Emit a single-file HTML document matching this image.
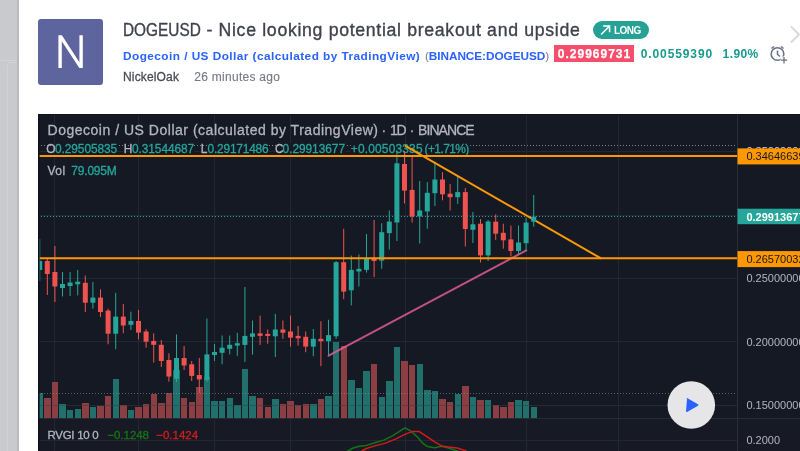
<!DOCTYPE html>
<html><head><meta charset="utf-8">
<style>
html,body{margin:0;padding:0;}
body{will-change:transform;width:800px;height:451px;overflow:hidden;background:#fff;position:relative;font-family:"Liberation Sans",sans-serif;}
.abs{position:absolute;white-space:nowrap;}
#strip{left:0;top:0;width:19px;height:451px;background:#c9cace;overflow:hidden;}
#strip:after{content:"";position:absolute;right:0;top:0;width:2px;height:451px;background:#b9bbc0;}
#strip .inner{position:absolute;left:7px;top:62px;width:14px;height:400px;border-left:1px solid #d1d2d6;border-top:1px solid #d1d2d6;border-top-left-radius:5px;}
#strip .hl{position:absolute;left:0;top:60px;width:19px;height:1px;background:#d1d2d6;}
#avatar{left:37.5px;top:18.5px;width:65px;height:66px;background:#5d649e;border-radius:3px;}
#title{left:123px;top:16.8px;font-size:17.7px;color:#3f424c;-webkit-text-stroke:0.35px #3f424c;line-height:26px;letter-spacing:0.37px;}
#sub{left:123px;top:47.5px;font-size:11.8px;font-weight:bold;color:#2962ff;line-height:16px;letter-spacing:0.34px;}
#sub .g{color:#787b86;font-weight:normal;}
#meta{left:123px;top:69.2px;font-size:12px;line-height:16px;color:#4a4d57;-webkit-text-stroke:0.3px #4a4d57;letter-spacing:0.15px;}
#meta .t{color:#787b86;-webkit-text-stroke:0.15px #787b86;position:absolute;left:71.3px;letter-spacing:0.27px;}
#long{left:593.3px;top:20.8px;width:55.7px;height:18.3px;border-radius:9.2px;background:#26a195;color:#fff;font-size:10px;font-weight:bold;}
#price{left:554px;top:45px;width:80px;height:16.7px;background:#f64f6b;color:#fff;font-size:12px;font-weight:bold;line-height:18.6px;-webkit-text-stroke:0.25px #fff;text-align:center;letter-spacing:1px;text-indent:1px;}
#chg{left:640.7px;top:46px;font-size:12px;font-weight:bold;color:#169a8c;line-height:17px;letter-spacing:0.9px;}
#pct{left:722.6px;top:46px;font-size:12px;font-weight:bold;color:#169a8c;line-height:17px;letter-spacing:0.4px;}
svg text{font-family:"Liberation Sans",sans-serif;}
</style></head><body>
<div id="strip" class="abs"><div class="hl"></div><div class="inner"></div></div>
<div id="avatar" class="abs">
<svg width="65" height="66" viewBox="0 0 65 66" style="position:absolute;left:0;top:0"><path d="M20.4 16.3 H23.9 L41.4 43.2 V16.3 H44.8 V49.1 H41.3 L23.8 22.2 V49.1 H20.4 Z" fill="#fff"/></svg>
</div>
<div id="title" class="abs"><span id="t1" style="letter-spacing:0;display:inline-block;transform:scaleX(0.87);transform-origin:0 0;margin-right:-11.65px">DOGEUSD</span><span id="t2" style="letter-spacing:0.68px"> - Nice looking potential breakout and upside</span></div>
<div id="long" class="abs"><svg width="56" height="19" style="position:absolute;left:0;top:0"><path d="M8.1 13.5 L16.4 5.2 M10.1 5 H16.6 V11.2" stroke="#fff" stroke-width="1.5" fill="none"/><text x="21.1" y="12.6" font-size="10" font-weight="bold" letter-spacing="-0.6" fill="#fff">LONG</text></svg></div>
<div id="sub" class="abs"><span id="s1" style="letter-spacing:0.46px">Dogecoin / US Dollar (calculated by TradingView)</span><span id="s2" style="position:absolute;left:302px;letter-spacing:-0.07px"><span class="g">(</span>BINANCE:DOGEUSD<span class="g">)</span></span></div>
<div id="meta" class="abs">NickelOak<span class="t">26 minutes ago</span></div>
<div id="price" class="abs">0.29969731</div>
<div id="chg" class="abs">0.00559390</div>
<div id="pct" class="abs">1.90%</div>
<svg class="abs" style="left:768px;top:44px" width="22" height="20" viewBox="0 0 22 20">
<circle cx="9.5" cy="10" r="6.3" stroke="#687184" stroke-width="1.6" fill="none"/>
<path d="M9.5 6.5 V10.5 L12 12.5" stroke="#687184" stroke-width="1.5" fill="none"/>
<path d="M3.5 4.5 L6 2.5 M15.5 4.5 L13 2.5" stroke="#687184" stroke-width="1.5" fill="none"/>
<rect x="12.5" y="12.5" width="7" height="7" fill="#fff"/>
<path d="M16 13 V19.5 M12.8 16.2 H19.2" stroke="#687184" stroke-width="1.3"/>
</svg>
<svg class="abs" style="left:788px;top:24px" width="12" height="24"><path d="M3 2.5 L11 10.5 L3 18.5" stroke="#d3d9e1" stroke-width="1.9" fill="none"/></svg>

<svg class="abs" style="left:38px;top:114px" width="762" height="337" viewBox="38 114 762 337">
<defs>
<clipPath id="main"><rect x="38" y="114" width="699" height="304"/></clipPath>
<clipPath id="low"><rect x="38" y="419" width="699" height="32"/></clipPath>
</defs>
<rect x="38" y="114" width="762" height="337" fill="#151924"/>
<rect x="38" y="114" width="762" height="1" fill="#10131b"/>
<g stroke="#232733" stroke-width="1" shape-rendering="crispEdges">
<path d="M54.5 115V451 M138.5 115V451 M214.5 115V451 M290.5 115V451 M405.5 115V451 M526.5 115V451 M618.5 115V451"/>
<path d="M38 151.5H737 M38 215.5H737 M38 278.5H737 M38 341.5H737 M38 405.5H737"/>
</g>
<g clip-path="url(#main)">
<path d="M38 145.5H737" stroke="#7e818b" stroke-width="1" stroke-dasharray="1 2" shape-rendering="crispEdges"/>
</g>
<!-- legend -->
<g fill="#151924"><rect x="55" y="143" width="62" height="11"/><rect x="132" y="143" width="62" height="11"/><rect x="207.6" y="143" width="61" height="11"/><rect x="282.6" y="143" width="62.4" height="11"/><rect x="350.75" y="143" width="71.8" height="11"/><rect x="424.5" y="143" width="44.8" height="11"/></g>
<text x="47.5" y="135.3" font-size="14" fill="#b2b5be" stroke="#b2b5be" stroke-width="0.3" textLength="330.5" lengthAdjust="spacing">Dogecoin / US Dollar (calculated by TradingView)</text>
<text x="383.75" y="135.3" font-size="14" fill="#b2b5be" stroke="#b2b5be" stroke-width="0.3" text-anchor="middle">·</text>
<text x="389.9" y="135.3" font-size="14" fill="#b2b5be" stroke="#b2b5be" stroke-width="0.3" textLength="16.8" lengthAdjust="spacing">1D</text>
<text x="412" y="135.3" font-size="14" fill="#b2b5be" stroke="#b2b5be" stroke-width="0.3" text-anchor="middle">·</text>
<text x="418.1" y="135.3" font-size="14" fill="#b2b5be" stroke="#b2b5be" stroke-width="0.3" textLength="56.6" lengthAdjust="spacing">BINANCE</text>
<text x="46.2" y="152.8" font-size="11.9" fill="#b2b5be" stroke="#b2b5be" stroke-width="0.3" textLength="7.6" lengthAdjust="spacing">O</text>
<text x="55" y="152.8" font-size="11.9" fill="#26a69a" stroke="#26a69a" stroke-width="0.3" textLength="62.2" lengthAdjust="spacing">0.29505835</text>
<text x="123.8" y="152.8" font-size="11.9" fill="#b2b5be" stroke="#b2b5be" stroke-width="0.3" textLength="7.2" lengthAdjust="spacing">H</text>
<text x="132" y="152.8" font-size="11.9" fill="#26a69a" stroke="#26a69a" stroke-width="0.3" textLength="62.2" lengthAdjust="spacing">0.31544687</text>
<text x="200.8" y="152.8" font-size="11.9" fill="#b2b5be" stroke="#b2b5be" stroke-width="0.3" textLength="6" lengthAdjust="spacing">L</text>
<text x="207.6" y="152.8" font-size="11.9" fill="#26a69a" stroke="#26a69a" stroke-width="0.3" textLength="61" lengthAdjust="spacing">0.29171486</text>
<text x="275.1" y="152.8" font-size="11.9" fill="#b2b5be" stroke="#b2b5be" stroke-width="0.3" textLength="6.8" lengthAdjust="spacing">C</text>
<text x="282.6" y="152.8" font-size="11.9" fill="#26a69a" stroke="#26a69a" stroke-width="0.3" textLength="62.4" lengthAdjust="spacing">0.29913677</text>
<text x="350.75" y="152.8" font-size="11.9" fill="#26a69a" stroke="#26a69a" stroke-width="0.3" textLength="71.8" lengthAdjust="spacing">+0.00503335</text>
<text x="424.5" y="152.8" font-size="11.9" fill="#26a69a" stroke="#26a69a" stroke-width="0.3" textLength="44.8" lengthAdjust="spacing">(+1.71%)</text>
<text x="47.6" y="174.8" font-size="12" fill="#b2b5be" stroke="#b2b5be" stroke-width="0.3" textLength="17.5" lengthAdjust="spacing">Vol</text>
<text x="71.3" y="174.8" font-size="12" fill="#26a69a" stroke="#26a69a" stroke-width="0.3" textLength="45.5" lengthAdjust="spacing">79.095M</text>
<g clip-path="url(#main)">
<g shape-rendering="crispEdges">
<rect x="36.5" y="393.2" width="6.4" height="24.8" fill="#22706b"/>
<rect x="44.1" y="398.0" width="6.4" height="20.0" fill="#8b3f43"/>
<rect x="51.7" y="382.2" width="6.4" height="35.8" fill="#8b3f43"/>
<rect x="59.3" y="403.9" width="6.4" height="14.1" fill="#22706b"/>
<rect x="66.9" y="409.6" width="6.4" height="8.4" fill="#22706b"/>
<rect x="74.5" y="408.7" width="6.4" height="9.3" fill="#22706b"/>
<rect x="82.1" y="403.0" width="6.4" height="15.0" fill="#8b3f43"/>
<rect x="89.7" y="406.7" width="6.4" height="11.3" fill="#22706b"/>
<rect x="97.3" y="405.6" width="6.4" height="12.4" fill="#8b3f43"/>
<rect x="104.9" y="396.4" width="6.4" height="21.6" fill="#8b3f43"/>
<rect x="112.5" y="379.4" width="6.4" height="38.6" fill="#22706b"/>
<rect x="120.1" y="404.8" width="6.4" height="13.2" fill="#8b3f43"/>
<rect x="127.7" y="409.6" width="6.4" height="8.4" fill="#22706b"/>
<rect x="135.3" y="406.7" width="6.4" height="11.3" fill="#8b3f43"/>
<rect x="142.9" y="403.9" width="6.4" height="14.1" fill="#8b3f43"/>
<rect x="150.5" y="393.8" width="6.4" height="24.2" fill="#8b3f43"/>
<rect x="158.1" y="403.1" width="6.4" height="14.9" fill="#8b3f43"/>
<rect x="165.7" y="392.7" width="6.4" height="25.3" fill="#8b3f43"/>
<rect x="173.3" y="369.9" width="6.4" height="48.1" fill="#22706b"/>
<rect x="180.9" y="398.0" width="6.4" height="20.0" fill="#8b3f43"/>
<rect x="188.5" y="402.0" width="6.4" height="16.0" fill="#8b3f43"/>
<rect x="196.1" y="386.5" width="6.4" height="31.5" fill="#8b3f43"/>
<rect x="203.7" y="377.0" width="6.4" height="41.0" fill="#22706b"/>
<rect x="211.3" y="401.0" width="6.4" height="17.0" fill="#22706b"/>
<rect x="218.9" y="401.0" width="6.4" height="17.0" fill="#22706b"/>
<rect x="226.5" y="398.3" width="6.4" height="19.7" fill="#22706b"/>
<rect x="234.1" y="405.4" width="6.4" height="12.6" fill="#22706b"/>
<rect x="241.7" y="368.9" width="6.4" height="49.1" fill="#22706b"/>
<rect x="249.3" y="395.5" width="6.4" height="22.5" fill="#22706b"/>
<rect x="256.9" y="398.3" width="6.4" height="19.7" fill="#8b3f43"/>
<rect x="264.5" y="406.8" width="6.4" height="11.2" fill="#8b3f43"/>
<rect x="272.1" y="399.0" width="6.4" height="19.0" fill="#22706b"/>
<rect x="279.7" y="403.9" width="6.4" height="14.1" fill="#8b3f43"/>
<rect x="287.3" y="400.9" width="6.4" height="17.1" fill="#8b3f43"/>
<rect x="294.9" y="405.4" width="6.4" height="12.6" fill="#8b3f43"/>
<rect x="302.5" y="403.9" width="6.4" height="14.1" fill="#8b3f43"/>
<rect x="310.1" y="403.9" width="6.4" height="14.1" fill="#22706b"/>
<rect x="317.7" y="399.0" width="6.4" height="19.0" fill="#8b3f43"/>
<rect x="325.3" y="395.5" width="6.4" height="22.5" fill="#22706b"/>
<rect x="332.9" y="341.6" width="6.4" height="76.4" fill="#22706b"/>
<rect x="340.5" y="346.0" width="6.4" height="72.0" fill="#8b3f43"/>
<rect x="348.1" y="379.5" width="6.4" height="38.5" fill="#22706b"/>
<rect x="355.7" y="387.9" width="6.4" height="30.1" fill="#22706b"/>
<rect x="363.3" y="370.9" width="6.4" height="47.1" fill="#22706b"/>
<rect x="370.9" y="364.3" width="6.4" height="53.7" fill="#8b3f43"/>
<rect x="378.5" y="397.0" width="6.4" height="21.0" fill="#22706b"/>
<rect x="386.1" y="381.1" width="6.4" height="36.9" fill="#22706b"/>
<rect x="393.7" y="346.6" width="6.4" height="71.4" fill="#22706b"/>
<rect x="401.3" y="360.9" width="6.4" height="57.1" fill="#8b3f43"/>
<rect x="408.9" y="365.3" width="6.4" height="52.7" fill="#8b3f43"/>
<rect x="416.5" y="364.3" width="6.4" height="53.7" fill="#22706b"/>
<rect x="424.1" y="389.9" width="6.4" height="28.1" fill="#22706b"/>
<rect x="431.7" y="390.9" width="6.4" height="27.1" fill="#22706b"/>
<rect x="439.3" y="398.9" width="6.4" height="19.1" fill="#8b3f43"/>
<rect x="446.9" y="401.9" width="6.4" height="16.1" fill="#8b3f43"/>
<rect x="454.5" y="393.5" width="6.4" height="24.5" fill="#22706b"/>
<rect x="462.1" y="385.9" width="6.4" height="32.1" fill="#8b3f43"/>
<rect x="469.7" y="397.0" width="6.4" height="21.0" fill="#22706b"/>
<rect x="477.3" y="399.9" width="6.4" height="18.1" fill="#8b3f43"/>
<rect x="484.9" y="399.9" width="6.4" height="18.1" fill="#22706b"/>
<rect x="492.5" y="405.4" width="6.4" height="12.6" fill="#8b3f43"/>
<rect x="500.1" y="406.8" width="6.4" height="11.2" fill="#8b3f43"/>
<rect x="507.7" y="401.9" width="6.4" height="16.1" fill="#8b3f43"/>
<rect x="515.3" y="399.9" width="6.4" height="18.1" fill="#22706b"/>
<rect x="522.9" y="400.9" width="6.4" height="17.1" fill="#22706b"/>
<rect x="530.5" y="406.8" width="6.4" height="11.2" fill="#22706b"/>
</g>
<line x1="328.6" y1="355.7" x2="526.3" y2="250.4" stroke="#ee5f9b" stroke-width="2" stroke-linecap="round" stroke-opacity="0.8"/>
<path d="M38 405.5H737" stroke="#2a2e39" stroke-opacity="0.35" stroke-width="1" shape-rendering="crispEdges"/>
<path d="M38 393.5H737" stroke="#8a8d96" stroke-opacity="0.6" stroke-width="1" stroke-dasharray="1 2" shape-rendering="crispEdges"/>
<g>
<rect x="39.2" y="239.0" width="1" height="42.0" fill="#26a69a"/>
<rect x="37.2" y="261.0" width="5" height="9.0" fill="#26a69a"/>
<rect x="46.8" y="259.0" width="1" height="36.0" fill="#ef5350"/>
<rect x="44.8" y="261.0" width="5" height="13.0" fill="#ef5350"/>
<rect x="54.4" y="246.0" width="1" height="56.0" fill="#ef5350"/>
<rect x="52.4" y="272.0" width="5" height="14.5" fill="#ef5350"/>
<rect x="62.0" y="272.0" width="1" height="24.5" fill="#26a69a"/>
<rect x="60.0" y="284.0" width="5" height="4.0" fill="#26a69a"/>
<rect x="69.6" y="272.0" width="1" height="24.0" fill="#26a69a"/>
<rect x="67.6" y="282.5" width="5" height="3.5" fill="#26a69a"/>
<rect x="77.2" y="270.0" width="1" height="25.4" fill="#26a69a"/>
<rect x="75.2" y="281.7" width="5" height="2.6" fill="#26a69a"/>
<rect x="84.8" y="275.5" width="1" height="36.5" fill="#ef5350"/>
<rect x="82.8" y="282.8" width="5" height="19.9" fill="#ef5350"/>
<rect x="92.4" y="282.0" width="1" height="26.7" fill="#26a69a"/>
<rect x="90.4" y="297.6" width="5" height="5.1" fill="#26a69a"/>
<rect x="100.0" y="289.4" width="1" height="27.6" fill="#ef5350"/>
<rect x="98.0" y="297.6" width="5" height="14.4" fill="#ef5350"/>
<rect x="107.6" y="308.8" width="1" height="35.5" fill="#ef5350"/>
<rect x="105.6" y="310.6" width="5" height="23.1" fill="#ef5350"/>
<rect x="115.2" y="292.9" width="1" height="56.3" fill="#26a69a"/>
<rect x="113.2" y="316.6" width="5" height="17.1" fill="#26a69a"/>
<rect x="122.8" y="304.0" width="1" height="29.2" fill="#ef5350"/>
<rect x="120.8" y="316.6" width="5" height="8.9" fill="#ef5350"/>
<rect x="130.4" y="311.7" width="1" height="18.2" fill="#26a69a"/>
<rect x="128.4" y="321.0" width="5" height="3.8" fill="#26a69a"/>
<rect x="138.0" y="310.0" width="1" height="29.4" fill="#ef5350"/>
<rect x="136.0" y="321.0" width="5" height="11.6" fill="#ef5350"/>
<rect x="145.6" y="329.3" width="1" height="18.4" fill="#ef5350"/>
<rect x="143.6" y="331.5" width="5" height="10.2" fill="#ef5350"/>
<rect x="153.2" y="333.3" width="1" height="29.3" fill="#ef5350"/>
<rect x="151.2" y="341.0" width="5" height="3.8" fill="#ef5350"/>
<rect x="160.8" y="340.0" width="1" height="27.0" fill="#ef5350"/>
<rect x="158.8" y="344.8" width="5" height="16.2" fill="#ef5350"/>
<rect x="168.4" y="353.3" width="1" height="28.3" fill="#ef5350"/>
<rect x="166.4" y="360.0" width="5" height="16.5" fill="#ef5350"/>
<rect x="176.0" y="334.4" width="1" height="47.6" fill="#26a69a"/>
<rect x="174.0" y="358.0" width="5" height="20.8" fill="#26a69a"/>
<rect x="183.6" y="346.0" width="1" height="24.0" fill="#ef5350"/>
<rect x="181.6" y="358.0" width="5" height="7.5" fill="#ef5350"/>
<rect x="191.2" y="361.0" width="1" height="20.0" fill="#ef5350"/>
<rect x="189.2" y="364.3" width="5" height="11.6" fill="#ef5350"/>
<rect x="198.8" y="358.0" width="1" height="35.0" fill="#ef5350"/>
<rect x="196.8" y="375.0" width="5" height="4.4" fill="#ef5350"/>
<rect x="206.4" y="318.5" width="1" height="63.5" fill="#26a69a"/>
<rect x="204.4" y="354.4" width="5" height="25.5" fill="#26a69a"/>
<rect x="214.0" y="344.0" width="1" height="17.0" fill="#26a69a"/>
<rect x="212.0" y="352.0" width="5" height="3.0" fill="#26a69a"/>
<rect x="221.6" y="335.5" width="1" height="28.8" fill="#26a69a"/>
<rect x="219.6" y="347.7" width="5" height="5.1" fill="#26a69a"/>
<rect x="229.2" y="335.5" width="1" height="18.9" fill="#26a69a"/>
<rect x="227.2" y="344.8" width="5" height="4.0" fill="#26a69a"/>
<rect x="236.8" y="332.8" width="1" height="23.1" fill="#26a69a"/>
<rect x="234.8" y="343.2" width="5" height="2.4" fill="#26a69a"/>
<rect x="244.4" y="287.0" width="1" height="75.0" fill="#26a69a"/>
<rect x="242.4" y="335.9" width="5" height="9.0" fill="#26a69a"/>
<rect x="252.0" y="320.5" width="1" height="34.1" fill="#26a69a"/>
<rect x="250.0" y="333.4" width="5" height="3.4" fill="#26a69a"/>
<rect x="259.6" y="315.6" width="1" height="29.3" fill="#ef5350"/>
<rect x="257.6" y="333.4" width="5" height="2.5" fill="#ef5350"/>
<rect x="267.2" y="329.5" width="1" height="14.2" fill="#ef5350"/>
<rect x="265.2" y="333.9" width="5" height="2.0" fill="#ef5350"/>
<rect x="274.8" y="313.9" width="1" height="43.1" fill="#26a69a"/>
<rect x="272.8" y="329.5" width="5" height="6.8" fill="#26a69a"/>
<rect x="282.4" y="320.5" width="1" height="18.3" fill="#ef5350"/>
<rect x="280.4" y="329.5" width="5" height="3.2" fill="#ef5350"/>
<rect x="290.0" y="315.6" width="1" height="31.0" fill="#ef5350"/>
<rect x="288.0" y="331.5" width="5" height="6.1" fill="#ef5350"/>
<rect x="297.6" y="326.0" width="1" height="19.6" fill="#ef5350"/>
<rect x="295.6" y="335.9" width="5" height="2.4" fill="#ef5350"/>
<rect x="305.2" y="331.5" width="1" height="20.7" fill="#ef5350"/>
<rect x="303.2" y="336.8" width="5" height="9.8" fill="#ef5350"/>
<rect x="312.8" y="329.0" width="1" height="27.3" fill="#26a69a"/>
<rect x="310.8" y="338.8" width="5" height="7.8" fill="#26a69a"/>
<rect x="320.4" y="321.2" width="1" height="44.9" fill="#ef5350"/>
<rect x="318.4" y="338.8" width="5" height="2.4" fill="#ef5350"/>
<rect x="328.0" y="319.8" width="1" height="35.9" fill="#26a69a"/>
<rect x="326.0" y="335.1" width="5" height="6.1" fill="#26a69a"/>
<rect x="335.6" y="261.0" width="1" height="78.0" fill="#26a69a"/>
<rect x="333.6" y="262.2" width="5" height="74.1" fill="#26a69a"/>
<rect x="343.2" y="228.7" width="1" height="70.5" fill="#ef5350"/>
<rect x="341.2" y="262.2" width="5" height="29.4" fill="#ef5350"/>
<rect x="350.8" y="255.5" width="1" height="49.9" fill="#26a69a"/>
<rect x="348.8" y="269.9" width="5" height="20.4" fill="#26a69a"/>
<rect x="358.4" y="254.4" width="1" height="32.1" fill="#26a69a"/>
<rect x="356.4" y="268.8" width="5" height="2.7" fill="#26a69a"/>
<rect x="366.0" y="234.0" width="1" height="38.6" fill="#26a69a"/>
<rect x="364.0" y="258.8" width="5" height="11.1" fill="#26a69a"/>
<rect x="373.6" y="219.8" width="1" height="57.2" fill="#ef5350"/>
<rect x="371.6" y="258.4" width="5" height="2.6" fill="#ef5350"/>
<rect x="381.2" y="223.2" width="1" height="45.6" fill="#26a69a"/>
<rect x="379.2" y="232.2" width="5" height="28.4" fill="#26a69a"/>
<rect x="388.8" y="210.5" width="1" height="39.0" fill="#26a69a"/>
<rect x="386.8" y="221.6" width="5" height="11.5" fill="#26a69a"/>
<rect x="396.4" y="151.0" width="1" height="90.0" fill="#26a69a"/>
<rect x="394.4" y="163.3" width="5" height="59.2" fill="#26a69a"/>
<rect x="404.0" y="151.0" width="1" height="52.5" fill="#ef5350"/>
<rect x="402.0" y="164.0" width="5" height="26.6" fill="#ef5350"/>
<rect x="411.6" y="156.7" width="1" height="65.9" fill="#ef5350"/>
<rect x="409.6" y="189.9" width="5" height="26.6" fill="#ef5350"/>
<rect x="419.2" y="181.0" width="1" height="62.5" fill="#26a69a"/>
<rect x="417.2" y="210.5" width="5" height="6.0" fill="#26a69a"/>
<rect x="426.8" y="182.1" width="1" height="46.6" fill="#26a69a"/>
<rect x="424.8" y="192.8" width="5" height="18.6" fill="#26a69a"/>
<rect x="434.4" y="161.7" width="1" height="44.4" fill="#26a69a"/>
<rect x="432.4" y="179.5" width="5" height="13.7" fill="#26a69a"/>
<rect x="442.0" y="172.2" width="1" height="28.1" fill="#ef5350"/>
<rect x="440.0" y="179.5" width="5" height="14.8" fill="#ef5350"/>
<rect x="449.6" y="183.9" width="1" height="26.6" fill="#ef5350"/>
<rect x="447.6" y="193.7" width="5" height="3.5" fill="#ef5350"/>
<rect x="457.2" y="176.6" width="1" height="27.3" fill="#26a69a"/>
<rect x="455.2" y="192.1" width="5" height="5.1" fill="#26a69a"/>
<rect x="464.8" y="188.0" width="1" height="58.5" fill="#ef5350"/>
<rect x="462.8" y="192.1" width="5" height="36.9" fill="#ef5350"/>
<rect x="472.4" y="212.0" width="1" height="31.0" fill="#26a69a"/>
<rect x="470.4" y="224.3" width="5" height="5.5" fill="#26a69a"/>
<rect x="480.0" y="219.0" width="1" height="43.5" fill="#ef5350"/>
<rect x="478.0" y="223.7" width="5" height="31.7" fill="#ef5350"/>
<rect x="487.6" y="220.0" width="1" height="41.0" fill="#26a69a"/>
<rect x="485.6" y="221.5" width="5" height="33.9" fill="#26a69a"/>
<rect x="495.2" y="214.4" width="1" height="25.5" fill="#ef5350"/>
<rect x="493.2" y="221.7" width="5" height="12.0" fill="#ef5350"/>
<rect x="502.8" y="223.7" width="1" height="25.0" fill="#ef5350"/>
<rect x="500.8" y="232.8" width="5" height="7.5" fill="#ef5350"/>
<rect x="510.4" y="225.5" width="1" height="31.0" fill="#ef5350"/>
<rect x="508.4" y="239.4" width="5" height="11.6" fill="#ef5350"/>
<rect x="518.0" y="225.5" width="1" height="28.8" fill="#26a69a"/>
<rect x="516.0" y="242.5" width="5" height="8.5" fill="#26a69a"/>
<rect x="525.6" y="217.7" width="1" height="33.3" fill="#26a69a"/>
<rect x="523.6" y="222.6" width="5" height="20.6" fill="#26a69a"/>
</g>
<path d="M38 216.5H737" stroke="#26a69a" stroke-width="1" stroke-dasharray="1 2" shape-rendering="crispEdges"/>
<path d="M38 156H737 M38 258.2H737" stroke="#ff9800" stroke-width="2"/>
<line x1="405.7" y1="146.1" x2="600.6" y2="258.2" stroke="#ff9800" stroke-width="2" stroke-linecap="round"/>
<rect x="533.2" y="195.0" width="1" height="31.6" fill="#26a69a"/>
<rect x="531.2" y="216.6" width="5" height="5.1" fill="#26a69a"/>
</g>
<rect x="38" y="419" width="762" height="32" fill="#171a25"/>
<rect x="38" y="418" width="762" height="1" fill="#292c37"/>
<path d="M54.5 419V451 M138.5 419V451 M214.5 419V451 M290.5 419V451 M405.5 419V451 M526.5 419V451 M618.5 419V451 M38 440.5H737" stroke="#232733" stroke-width="1" shape-rendering="crispEdges"/>
<g clip-path="url(#low)" fill="none" stroke-width="1.5" stroke-linejoin="round">
<polyline stroke="#147314" points="344,456 347.9,451 353.1,448 359.3,446.3 366.3,445.4 375,442.8 383.8,440.1 392.5,435.8 399.5,431.4 404.8,427.9 410,430.5 417,436.6 422.3,442.8 427.6,446.6 434.6,447.7 441.6,446.3 448.6,448 457.3,451 462,454"/>
<polyline stroke="#d01b1b" points="357,455 361.9,451 366.3,448.5 375,445.9 385.5,443.1 396,438.9 404.8,434.4 412.7,431.4 418.8,431.4 425.8,435.8 434.6,441.9 441.6,445.9 448.6,447.1 457.3,448 466.1,451 470,455"/>
</g>
<text x="47.5" y="438.6" font-size="11.5" fill="#b2b5be" stroke="#b2b5be" stroke-width="0.3" textLength="51.2" lengthAdjust="spacing">RVGI 10 0</text>
<text x="107.4" y="438.6" font-size="11.5" fill="#167816" stroke="#147314" stroke-width="0.3" textLength="41.6" lengthAdjust="spacing">−0.1248</text>
<text x="156.2" y="438.6" font-size="11.5" fill="#d41c1c" stroke="#d41c1c" stroke-width="0.3" textLength="41.9" lengthAdjust="spacing">−0.1424</text>
<!-- price axis -->
<rect x="737" y="114" width="1" height="337" fill="#2a2e39"/>
<rect x="38" y="114" width="1.6" height="337" fill="#0f1219"/>
<g font-size="11">
<text x="746.4" y="282.2" fill="#b2b5be">0.25000000</text>
<text x="746.4" y="345.8" fill="#b2b5be">0.20000000</text>
<text x="746.4" y="409.2" fill="#b2b5be">0.15000000</text>
<text x="746.4" y="444.3" fill="#b2b5be">0.2000</text>
<text x="746.4" y="154.6" fill="#d1d4dc">0.35000000</text>
<rect x="737.5" y="148.4" width="63" height="16" fill="#ff9800"/>
<text x="746.4" y="160.4" fill="#131722">0.34646639</text>
<rect x="737.5" y="208.7" width="63" height="15.5" fill="#26a69a"/>
<text x="746.4" y="220.5" fill="#fff" font-weight="bold">0.29913677</text>
<rect x="737.5" y="251.1" width="63" height="16" fill="#ff9800"/>
<text x="746.4" y="262.8" fill="#131722">0.26570032</text>
</g>
<!-- play -->
<circle cx="691.3" cy="405" r="23.8" fill="#ededef" fill-opacity="0.97"/>
<path d="M687 399 Q686 397.6 687.5 398.3 L698 404.3 Q699 405 698 405.7 L687.5 411.7 Q686 412.4 686 411 Z" fill="#2962ff"/>
</svg>
</body></html>
